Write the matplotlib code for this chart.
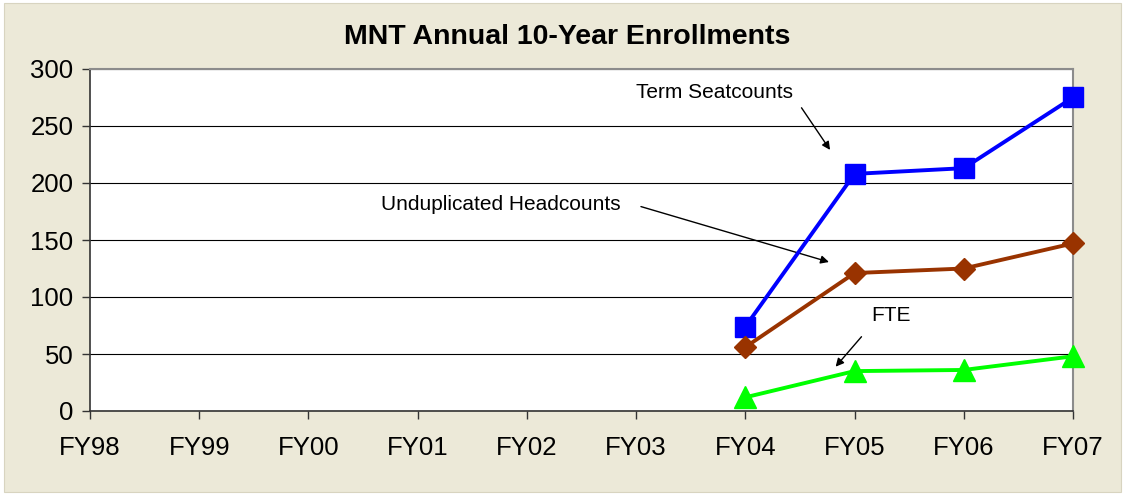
import matplotlib
matplotlib.use('Agg')
import matplotlib.pyplot as plt
from matplotlib.patches import Rectangle

plt.rcParams['font.family'] = ['Liberation Sans', 'DejaVu Sans']

years = ['FY98', 'FY99', 'FY00', 'FY01', 'FY02', 'FY03', 'FY04', 'FY05', 'FY06', 'FY07']
first_year = 6  # data starts at FY04
seatcounts = [74, 208, 213, 275]
headcounts = [56, 121, 125, 147]
fte = [12, 35, 36, 48]

fig = plt.figure(figsize=(11.25, 4.95), dpi=100, facecolor='white')
# beige chart area with thin border
fig.patches.append(Rectangle((4 / 1125, 3 / 495), 1117 / 1125, 489 / 495,
                             transform=fig.transFigure, facecolor='#ECE9D8',
                             edgecolor='#D8D4C0', linewidth=0.8, zorder=-10))

ax = fig.add_axes([90 / 1125, 1 - 411 / 495, 983 / 1125, 342 / 495])
ax.set_zorder(1)
ax.set_facecolor('white')

x = list(range(first_year, first_year + len(seatcounts)))
ax.plot(x, seatcounts, color='#0000FF', lw=2.8, marker='s', ms=14.5,
        clip_on=False, zorder=5)
ax.plot(x, headcounts, color='#993300', lw=2.8, marker='D', ms=11.5,
        clip_on=False, zorder=5)
ax.plot(x, fte, color='#00FF00', lw=2.8, marker='^', ms=16,
        clip_on=False, zorder=5)

ax.set_xlim(0, len(years) - 1)
ax.set_ylim(0, 300)
ax.set_xticks(range(len(years)))
ax.set_xticklabels(years)
ax.set_yticks(range(0, 301, 50))
ax.tick_params(axis='both', labelsize=18.5, length=6, width=1, direction='out',
               color='#333333')
ax.tick_params(axis='y', pad=6)
ax.tick_params(axis='x', pad=12)

ax.grid(axis='y', color='black', lw=0.8)
ax.set_axisbelow(True)
for side in ['top', 'right']:
    ax.spines[side].set_color('#8C8C8C')
    ax.spines[side].set_linewidth(1.5)
for side in ['left', 'bottom']:
    ax.spines[side].set_color('#333333')
    ax.spines[side].set_linewidth(1.2)

fig.text(0.504, 1 - 37 / 495, 'MNT Annual 10-Year Enrollments', ha='center',
         va='center', fontsize=20.5, fontweight='bold')

# labels with arrows
ax.text(5.72, 279, 'Term Seatcounts', ha='center', va='center', fontsize=15)
ax.annotate('', xy=(6.79, 227), xytext=(6.50, 268),
            arrowprops=dict(arrowstyle='-|>', color='black', lw=1,
                            mutation_scale=12))
ax.text(3.76, 181, 'Unduplicated Headcounts', ha='center', va='center', fontsize=15)
ax.annotate('', xy=(6.79, 130), xytext=(5.02, 180),
            arrowprops=dict(arrowstyle='-|>', color='black', lw=1,
                            mutation_scale=12))
ax.text(7.33, 84, 'FTE', ha='center', va='center', fontsize=15)
ax.annotate('', xy=(6.81, 37), xytext=(7.08, 67),
            arrowprops=dict(arrowstyle='-|>', color='black', lw=1,
                            mutation_scale=12))

plt.savefig('out.png', dpi=100, facecolor=fig.get_facecolor())
